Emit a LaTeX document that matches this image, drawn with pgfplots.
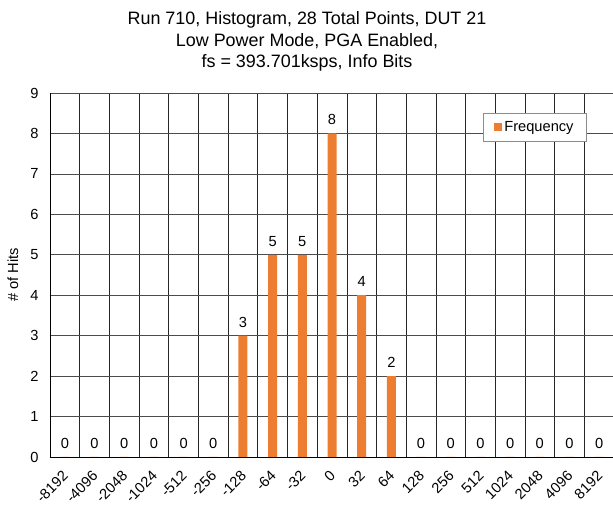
\documentclass[border=0pt]{standalone}
\usepackage{pgfplots}
\pgfplotsset{compat=1.18}
\usepackage{fontspec}
\setmainfont{Liberation Sans}
\definecolor{barorange}{RGB}{237,125,49}
\begin{document}
\begin{tikzpicture}[x=1bp,y=1bp]
\begin{axis}[
  at={(0,0)}, anchor=south west,
  scale only axis, width=564bp, height=364bp,
  ybar, bar width=9bp,
  xmin=-0.5, xmax=18.5, ymin=0, ymax=9,
  xtick={0,...,18},
  xticklabels={-8192,-4096,-2048,-1024,-512,-256,-128,-64,-32,0,32,64,128,256,512,1024,2048,4096,8192},
  minor xtick={-0.5,0.5,...,18.5},
  ytick={0,...,9},
  xminorgrids, ymajorgrids,
  major grid style={black!70, line width=0.6pt},
  minor grid style={black!85, line width=0.6pt},
  major tick length=0pt, minor tick length=0pt,
  axis x line*=bottom, axis y line*=left,
  axis line style={black, line width=0.8pt},
  /pgf/number format/assume math mode=true,
  tick label style={font=\fontsize{14.7}{17}\selectfont},
  xticklabel style={rotate=45, anchor=east, inner sep=0pt, xshift=-11bp, yshift=-12bp},
  yticklabel style={xshift=-8bp},
  ylabel={\# of Hits},
  ylabel style={font=\fontsize{14.7}{17}\selectfont, at={(axis description cs:0,0.5)}, anchor=center, yshift=37bp},
  title={Run 710, Histogram, 28 Total Points, DUT 21\\Low Power Mode, PGA Enabled,\\fs = 393.701ksps, Info Bits},
  title style={font=\fontsize{18}{21.5}\selectfont, align=center, at={(axis description cs:0.5,1)}, anchor=south, xshift=-25bp, yshift=12bp},
  nodes near coords,
  nodes near coords style={font=\fontsize{14.7}{17}\selectfont, black, yshift=5bp},
  legend style={at={(0.768,0.945)}, anchor=north west, draw=black!45, fill=white,
    font=\fontsize{14.7}{17}\selectfont, inner xsep=11bp, inner ysep=6bp, legend cell align=left},
]
\addplot[fill=barorange, draw=none,
  legend image code/.code={\fill[barorange] (0bp,-4bp) rectangle (8bp,4bp);}]
  coordinates {(0,0) (1,0) (2,0) (3,0) (4,0) (5,0) (6,3) (7,5) (8,5) (9,8) (10,4) (11,2) (12,0) (13,0) (14,0) (15,0) (16,0) (17,0) (18,0)};
\addlegendentry{Frequency}
\end{axis}
\pgfresetboundingbox
\path[use as bounding box] (-50,-49) rectangle (563,457);
\end{tikzpicture}
\end{document}
